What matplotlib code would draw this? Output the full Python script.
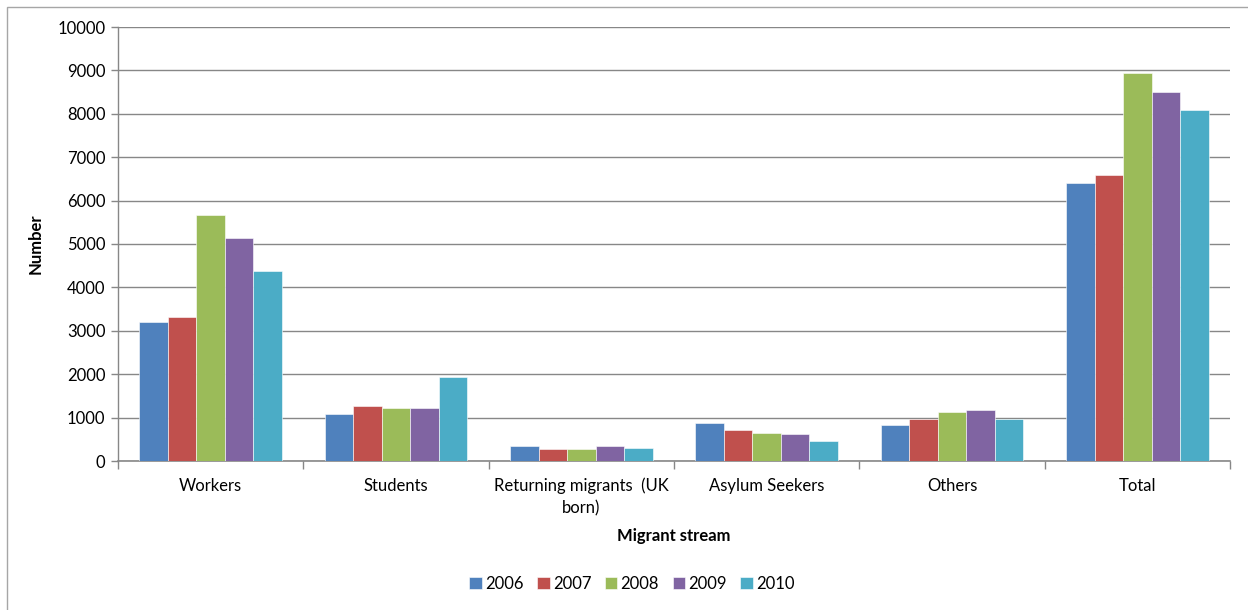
import numpy as np
import matplotlib.pyplot as plt
from matplotlib.patches import Rectangle

plt.rcParams["font.family"] = ["Lato", "DejaVu Sans"]

categories = ["Workers", "Students", "Returning migrants  (UK\nborn)",
              "Asylum Seekers", "Others", "Total"]
years = ["2006", "2007", "2008", "2009", "2010"]
v2006 = [3200, 1090, 340, 875, 840, 6400]
v2007 = [3320, 1275, 270, 715, 960, 6580]
v2008 = [5670, 1215, 270, 650, 1120, 8930]
v2009 = [5130, 1215, 340, 620, 1185, 8495]
v2010 = [4380, 1935, 305, 470, 960, 8090]
series = [v2006, v2007, v2008, v2009, v2010]
colors = ["#4F81BD", "#C0504D", "#9BBB59", "#8064A2", "#4BACC6"]

fig = plt.figure(figsize=(12.48, 6.10), dpi=100)
ax = fig.add_axes([118 / 1248, 1 - 461 / 610, (1230 - 118) / 1248, (461 - 27) / 610])

# light outer chart frame (bottom and right run off the image)
fig.patches.append(Rectangle((7 / 1248, -0.2), 1.2, 1.2 - 7 / 610, transform=fig.transFigure,
                             fill=False, edgecolor="#A6A6A6", linewidth=1))

x = np.arange(len(categories))
w = 1 / 6.5
for i, (vals, c, yr) in enumerate(zip(series, colors, years)):
    ax.bar(x + (i - 2) * w, vals, width=w, color=c, edgecolor="white",
           linewidth=0.4, label=yr, zorder=3)

ax.set_xlim(-0.5, len(categories) - 0.5)
ax.set_ylim(0, 10000)
ax.set_yticks(range(0, 10001, 1000))
ax.grid(axis="y", color="#878787", linewidth=1, zorder=0)

ax.set_xticks(x)
ax.set_xticklabels(categories, fontsize=12, linespacing=1.5)
ax.set_xticks(np.arange(-0.5, len(categories)), minor=True)
ax.tick_params(axis="x", which="major", length=0, pad=12)
ax.tick_params(axis="x", which="minor", length=6, color="#878787", width=1)
ax.tick_params(axis="y", length=5, color="#878787", width=1, labelsize=12, pad=4)

for s in ["top", "right"]:
    ax.spines[s].set_visible(False)
ax.spines["left"].set_color("#878787")
ax.spines["bottom"].set_color("#878787")
ax.spines["left"].set_linewidth(1)
ax.spines["bottom"].set_linewidth(1.2)

ax.set_ylabel("Number", fontsize=12, fontweight="bold", labelpad=10)
ax.set_xlabel("Migrant stream", fontsize=12, fontweight="bold", labelpad=8)

fig.legend(loc="center", bbox_to_anchor=(632 / 1248, 1 - 584 / 610), ncol=5,
           frameon=False, fontsize=12, handlelength=0.75, handleheight=0.75,
           handletextpad=0.2, columnspacing=0.8)

fig.savefig("out.png", dpi=100)
